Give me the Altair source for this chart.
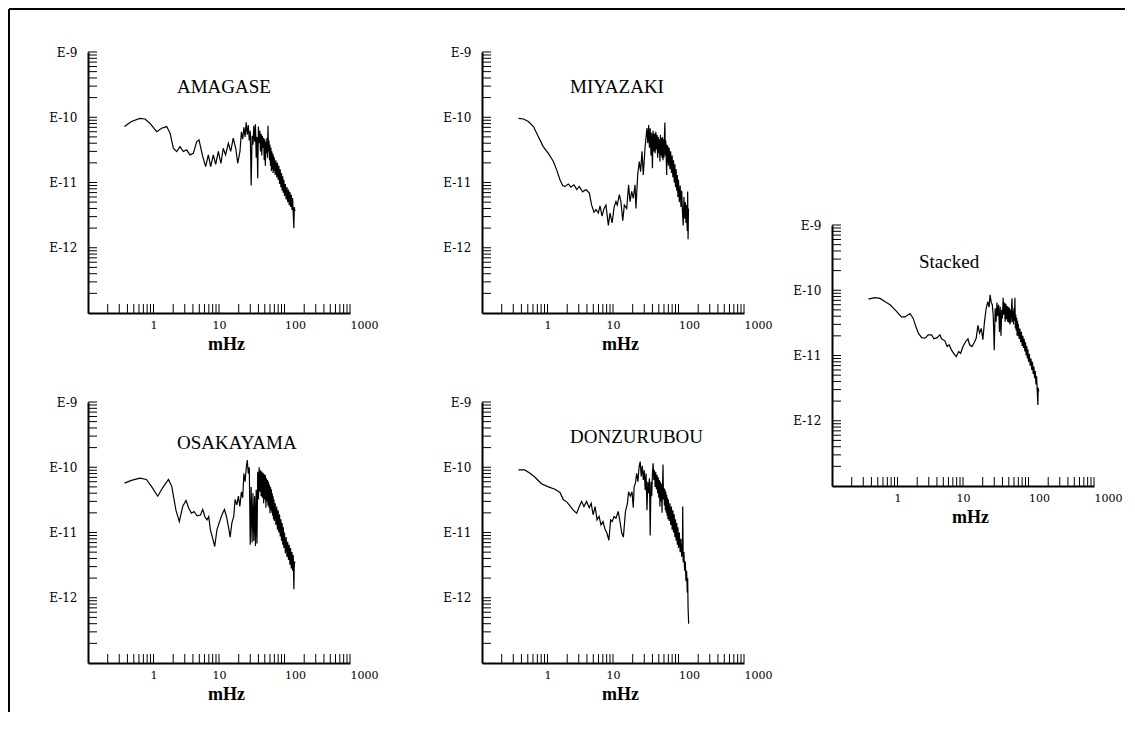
import altair as alt
import pandas as pd

# ---------------- data (frequency in mHz, power) ----------------
AMAGASE_F = [0.36, 0.46, 0.62, 0.74, 0.88, 1.12, 1.33, 1.59, 1.79, 2.01,
             2.26, 2.54, 2.85, 3.21, 3.6, 4.05, 4.56, 4.95, 5.56, 6.25,
             6.87, 7.46, 8.19, 8.9, 9.77, 10.7, 11.6, 12.6, 13.9, 15.1,
             16.5, 18.0, 19.3, 20.9,
             22, 23, 24, 25, 26, 27, 28, 29, 30, 31,
             32, 33, 34, 35, 36, 37, 38, 39, 40, 41,
             42, 43, 44, 45, 46, 47, 48, 49, 50, 51,
             52, 53, 54, 55, 56, 57, 58, 59, 60, 61,
             62, 63, 64, 65, 66, 67, 68, 69, 70,
             72, 74, 76, 78, 80, 82, 84, 86, 88, 90, 92, 94, 96, 98, 100,
             103, 106, 109, 112, 115, 118, 121, 124, 127, 130, 133,
             136, 139, 141, 144]
AMAGASE_P = [7.2e-11, 8.6e-11, 9.6e-11, 9.4e-11, 8.1e-11, 6.0e-11, 6.8e-11, 7.2e-11, 5.7e-11, 3.35e-11,
             2.98e-11, 3.55e-11, 2.98e-11, 3.16e-11, 2.65e-11, 2.8e-11, 4.2e-11, 4.5e-11, 2.65e-11, 1.75e-11,
             2.65e-11, 1.75e-11, 2.65e-11, 1.9e-11, 3.0e-11, 1.97e-11, 3.35e-11, 2.65e-11, 4.0e-11, 3.0e-11,
             4.8e-11, 3.35e-11, 1.97e-11, 3.0e-11,
             6.0e-11, 4.6e-11, 7.0e-11, 5.0e-11, 8.4e-11, 5.4e-11, 7.6e-11, 4.4e-11, 6.2e-11, 9.0e-12,
             5.2e-11, 3.8e-11, 7.4e-11, 4.2e-11, 7.8e-11, 2.4e-11, 5.0e-11, 1.16e-11, 7.2e-11, 4.0e-11,
             6.2e-11, 3.0e-11, 5.6e-11, 2.6e-11, 5.2e-11, 3.4e-11, 4.8e-11, 2.2e-11, 4.6e-11, 1.8e-11,
             4.2e-11, 2.8e-11, 4.8e-11, 2.4e-11, 7.4e-11, 3.0e-11, 4.4e-11, 2.2e-11, 3.8e-11, 1.8e-11,
             3.4e-11, 1.5e-11, 3.0e-11, 1.6e-11, 2.8e-11, 1.4e-11, 2.6e-11, 1.5e-11, 2.4e-11,
             1.3e-11, 2.2e-11, 1.2e-11, 2.0e-11, 1.1e-11, 1.8e-11, 9.5e-12, 1.6e-11, 8.5e-12, 1.4e-11,
             7.5e-12, 1.25e-11, 7.0e-12, 1.1e-11, 6.2e-12,
             9.5e-12, 5.5e-12, 8.5e-12, 5.0e-12, 7.8e-12, 4.5e-12, 7.2e-12, 4.2e-12, 6.5e-12, 3.8e-12, 5.8e-12,
             3.3e-12, 2.0e-12, 4.2e-12, 3.6e-12]

MIYAZAKI_F = [0.36, 0.43, 0.51, 0.61, 0.72, 0.86, 1.03, 1.23, 1.38, 1.55,
              1.71, 1.85, 2.08, 2.28, 2.54, 2.79, 3.06, 3.44, 3.87, 4.35,
              4.72, 5.13, 5.5, 5.97, 6.34, 6.8, 7.3, 7.8, 8.5, 9.0,
              9.7, 10.4, 11.1, 11.6, 12.5, 13.2, 14.1, 14.9, 16.2, 17.3,
              18.2, 19.3, 20.4, 21.7, 22.4, 23.8, 25.2, 26.4, 27.7, 29.0,
              30.8, 32.0,
              33, 34, 35, 36, 37, 38, 39, 40, 41, 42,
              43, 44, 45, 46, 47, 48, 49, 50, 51, 52,
              53, 54, 55, 56, 57, 58, 59, 60, 61, 62,
              63, 64, 65, 66, 67, 68, 69, 70,
              72, 74, 76, 78, 80, 82, 84, 86, 88, 90, 92, 94, 96, 98, 100,
              103, 106, 109, 112, 115, 118, 121, 124, 127, 130, 133,
              136, 138, 140, 142]
MIYAZAKI_P = [9.6e-11, 9.4e-11, 8.6e-11, 7.2e-11, 5.1e-11, 3.55e-11, 2.8e-11, 2.1e-11, 1.56e-11, 1.1e-11,
              8.9e-12, 8.7e-12, 9.5e-12, 8.5e-12, 9.2e-12, 7.8e-12, 8.7e-12, 7.2e-12, 7.8e-12, 6.9e-12,
              4.5e-12, 3.5e-12, 3.85e-12, 3.4e-12, 4.4e-12, 3.05e-12, 4.0e-12, 4.5e-12, 2.2e-12, 3.4e-12,
              2.4e-12, 4.2e-12, 5.1e-12, 4.5e-12, 6.5e-12, 5.1e-12, 2.6e-12, 4.5e-12, 4.0e-12, 9.2e-12,
              5.1e-12, 7.3e-12, 5.7e-12, 9.2e-12, 4.0e-12, 1.31e-11, 2.1e-11, 1.47e-11, 3.0e-11, 1.31e-11,
              3.35e-11, 5.0e-11,
              6.8e-11, 4.0e-11, 7.6e-11, 3.4e-11, 6.8e-11, 2.6e-11, 5.8e-11, 1.66e-11, 6.2e-11, 3.0e-11,
              5.6e-11, 2.8e-11, 6.0e-11, 3.2e-11, 5.4e-11, 2.4e-11, 5.0e-11, 2.8e-11, 4.6e-11, 2.1e-11,
              5.4e-11, 2.6e-11, 4.8e-11, 2.4e-11, 5.0e-11, 2.2e-11, 4.6e-11, 2.4e-11, 5.2e-11, 8.3e-11,
              2.6e-11, 4.4e-11, 2.2e-11, 1.3e-11, 3.8e-11, 2.0e-11, 3.6e-11, 1.8e-11,
              3.4e-11, 1.6e-11, 3.0e-11, 1.4e-11, 2.6e-11, 1.2e-11, 2.2e-11, 1.0e-11, 1.9e-11, 8.5e-12,
              1.6e-11, 7.5e-12, 1.3e-11, 6.0e-12, 1.1e-11,
              5.0e-12, 9.0e-12, 4.2e-12, 7.5e-12, 3.5e-12, 2.2e-12, 6.0e-12, 2.8e-12, 5.0e-12, 2.4e-12, 4.5e-12,
              1.8e-12, 7.3e-12, 1.35e-12, 4.0e-12]

OSAKAYAMA_F = [0.36, 0.46, 0.62, 0.78, 0.93, 1.16, 1.37, 1.69, 1.90, 2.20,
               2.48, 2.79, 3.14, 3.45, 3.79, 4.16, 4.63, 5.21, 5.65, 6.06,
               6.57, 6.97, 7.39, 8.0, 8.6, 9.3, 10.2, 11.1, 12.1, 13.0,
               13.9, 14.8, 15.7, 16.8, 17.6, 18.7, 19.8,
               20.8,
               22, 23, 24, 25, 26, 27, 28, 29, 30, 31,
               32, 33, 34, 35, 36, 37, 38, 39, 40, 41,
               42, 43, 44, 45, 46, 47, 48, 49, 50, 51,
               52, 53, 54, 55, 56, 57, 58, 59, 60, 61,
               62, 63, 64, 65, 66, 67, 68, 69, 70,
               72, 74, 76, 78, 80, 82, 84, 86, 88, 90, 92, 94, 96, 98, 100,
               103, 106, 109, 112, 115, 118, 121, 124, 127, 130, 133,
               136, 139, 141, 144]
OSAKAYAMA_P = [5.7e-11, 6.3e-11, 6.8e-11, 6.5e-11, 5.1e-11, 3.6e-11, 4.8e-11, 6.5e-11, 5.1e-11, 2.2e-11,
               1.47e-11, 2.5e-11, 3.1e-11, 2.35e-11, 1.98e-11, 2.1e-11, 1.8e-11, 1.85e-11, 2.25e-11, 1.76e-11,
               1.56e-11, 1.76e-11, 1.1e-11, 8.2e-12, 6.1e-12, 1.1e-11, 1.47e-11, 1.87e-11, 2.25e-11, 1.76e-11,
               1.24e-11, 8.5e-12, 1.39e-11, 1.76e-11, 3.2e-11, 2.65e-11, 3.6e-11,
               2.5e-11,
               4.2e-11, 3.4e-11, 8.0e-11, 6.0e-11, 9.5e-11, 1.29e-10, 8.0e-11, 1.0e-10, 6.5e-12, 5.0e-11,
               7.0e-12, 4.0e-11, 7.4e-12, 3.6e-11, 6.2e-12, 4.5e-11, 6.8e-12, 8.5e-11, 3.2e-11, 1.0e-10,
               4.2e-11, 9.0e-11, 3.6e-11, 8.6e-11, 3.4e-11, 8.2e-11, 2.8e-11, 7.8e-11, 3.2e-11, 7.6e-11,
               2.4e-11, 6.8e-11, 3.0e-11, 6.4e-11, 2.6e-11, 6.0e-11, 2.4e-11, 5.4e-11, 1.98e-11, 5.0e-11,
               2.2e-11, 4.6e-11, 2.0e-11, 4.0e-11, 1.8e-11, 3.6e-11, 1.6e-11, 3.2e-11, 1.5e-11,
               2.8e-11, 1.3e-11, 2.5e-11, 1.1e-11, 2.2e-11, 1.0e-11, 1.9e-11, 8.7e-12, 1.6e-11, 7.5e-12,
               1.4e-11, 6.5e-12, 1.2e-11, 5.8e-12, 1.0e-11,
               4.8e-12, 8.5e-12, 4.2e-12, 7.2e-12, 3.8e-12, 6.5e-12, 3.2e-12, 5.8e-12, 2.8e-12, 5.0e-12, 2.6e-12,
               4.5e-12, 1.35e-12, 3.2e-12, 3.6e-12]

DONZURUBOU_F = [0.36, 0.45, 0.54, 0.64, 0.81, 1.03, 1.30, 1.55, 1.74, 2.0,
                2.25, 2.47, 2.79, 3.06, 3.31, 3.60, 3.95, 4.33, 4.64, 4.97,
                5.33, 5.71, 6.12, 6.56, 7.03, 7.62, 8.07, 8.65, 9.2, 9.7,
                10.4, 11.1, 12.0, 12.8, 13.6, 14.4, 15.5, 16.6, 17.3, 18.4,
                19.5, 20.4, 21.0,
                22, 23, 24, 25, 26, 27, 28, 29, 30, 31,
                32, 33, 34, 35, 36, 37, 38, 39, 40, 41,
                42, 43, 44, 45, 46, 47, 48, 49, 50, 51,
                52, 53, 54, 55, 56, 57, 58, 59, 60, 61,
                62, 63, 64, 65, 66, 67, 68, 69, 70,
                72, 74, 76, 78, 80, 82, 84, 86, 88, 90, 92, 94, 96, 98, 100,
                103, 106, 109, 112, 115, 116, 118, 121, 124, 127, 130, 133, 136, 138, 140, 143]
DONZURUBOU_P = [9.1e-11, 9.1e-11, 8.1e-11, 7.1e-11, 5.6e-11, 5.0e-11, 4.6e-11, 4.1e-11, 3.2e-11, 2.9e-11,
                2.5e-11, 2.2e-11, 1.98e-11, 2.5e-11, 3.0e-11, 2.5e-11, 3.0e-11, 2.4e-11, 2.8e-11, 1.87e-11,
                2.5e-11, 1.56e-11, 1.76e-11, 1.31e-11, 1.47e-11, 1.1e-11, 9.8e-12, 7.6e-12, 1.56e-11, 1.47e-11,
                1.76e-11, 1.66e-11, 2.1e-11, 1.47e-11, 9.8e-12, 8.5e-12, 2.1e-11, 2.8e-11, 4.2e-11, 3.6e-11,
                4.2e-11, 2.4e-11, 5.0e-11,
                5.7e-11, 8.1e-11, 6.0e-11, 1.0e-10, 1.22e-10, 7.2e-11, 1.05e-10, 6.4e-11, 9.0e-11, 4.5e-11,
                8.0e-11, 2.2e-11, 6.0e-11, 4.0e-11, 6.8e-11, 9.0e-12, 6.0e-11, 3.6e-11, 8.0e-11, 1.15e-10,
                6.4e-11, 9.0e-11, 5.0e-11, 8.4e-11, 4.6e-11, 7.6e-11, 4.0e-11, 7.0e-11, 3.4e-11, 6.4e-11,
                2.5e-11, 6.0e-11, 3.0e-11, 5.6e-11, 2.0e-11, 5.0e-11, 1.1e-10, 3.2e-11, 4.8e-11, 2.6e-11,
                4.6e-11, 2.2e-11, 4.2e-11, 2.0e-11, 3.8e-11, 1.8e-11, 3.4e-11, 1.6e-11, 3.2e-11,
                1.5e-11, 2.8e-11, 1.3e-11, 2.5e-11, 1.1e-11, 2.2e-11, 1.0e-11, 1.9e-11, 8.5e-12, 1.6e-11,
                7.5e-12, 1.4e-11, 6.5e-12, 1.2e-11, 5.8e-12,
                1.0e-11, 5.0e-12, 8.0e-12, 4.2e-12, 6.5e-12, 2.5e-11, 3.5e-12, 5.0e-12, 2.6e-12, 3.6e-12,
                1.8e-12, 2.6e-12, 1.2e-12, 2.0e-12, 7.0e-13, 4.0e-13]

STACKED_F = [0.36, 0.45, 0.54, 0.64, 0.77, 0.92, 1.15, 1.30, 1.55, 1.74,
             1.91, 2.08, 2.34, 2.63, 2.95, 3.31, 3.60, 4.04, 4.44, 4.71,
             5.29, 5.73, 6.14, 6.66, 7.2, 7.9, 8.6, 9.2, 10.0, 11.0,
             11.9, 12.6, 13.7, 14.7, 15.9, 16.9, 17.9, 19.0, 20.1, 21.3,
             22.6, 23.9, 25.0, 25.9, 27.0,
             28, 29, 30, 31, 32, 33, 34, 35, 36, 37,
             38, 39, 40, 41, 42, 43, 44, 45, 46, 47,
             48, 49, 50, 51, 52, 53, 54, 55, 56, 57,
             58, 59, 60, 61, 62, 63, 64, 65, 66, 67,
             68, 69, 70,
             72, 74, 76, 78, 80, 82, 84, 86, 88, 90, 92, 94, 96, 98, 100,
             103, 106, 109, 112, 115, 118, 121, 124, 127, 130, 133,
             136, 139, 141, 143]
STACKED_P = [7.3e-11, 7.7e-11, 7.5e-11, 6.7e-11, 6.0e-11, 5.0e-11, 3.9e-11, 3.9e-11, 4.4e-11, 3.7e-11,
             2.75e-11, 2.2e-11, 1.88e-11, 1.84e-11, 2.07e-11, 2.07e-11, 1.8e-11, 1.88e-11, 2.07e-11, 1.8e-11,
             1.68e-11, 1.37e-11, 1.46e-11, 1.22e-11, 1.08e-11, 9.6e-12, 1.15e-11, 1.08e-11, 1.37e-11, 1.64e-11,
             1.8e-11, 1.46e-11, 1.37e-11, 1.55e-11, 1.84e-11, 2.9e-11, 2.2e-11, 2.6e-11, 1.75e-11, 3.3e-11,
             5.3e-11, 6.7e-11, 5.5e-11, 8.5e-11, 6.5e-11,
             6.0e-11, 4.0e-11, 1.2e-11, 5.3e-11, 3.3e-11, 6.5e-11, 4.0e-11, 6.0e-11, 2.3e-11, 5.6e-11,
             2.0e-11, 5.0e-11, 3.7e-11, 7.7e-11, 4.2e-11, 6.5e-11, 3.3e-11, 6.2e-11, 3.6e-11, 5.8e-11,
             3.3e-11, 5.6e-11, 3.2e-11, 5.4e-11, 3.0e-11, 5.0e-11, 3.2e-11, 5.4e-11, 7.5e-11, 3.3e-11,
             4.8e-11, 3.0e-11, 5.3e-11, 3.4e-11, 7.7e-11, 2.6e-11, 4.2e-11, 2.4e-11, 3.8e-11, 2.0e-11,
             3.4e-11, 2.0e-11, 3.0e-11,
             1.8e-11, 2.6e-11, 1.6e-11, 2.3e-11, 1.4e-11, 2.0e-11, 1.3e-11, 1.8e-11, 1.15e-11, 1.6e-11,
             1.0e-11, 1.4e-11, 9.0e-12, 1.25e-11, 8.0e-12,
             1.05e-11, 7.0e-12, 9.0e-12, 6.0e-12, 8.0e-12, 5.2e-12, 6.8e-12, 4.5e-12, 5.8e-12, 3.6e-12, 4.8e-12,
             2.8e-12, 1.75e-12, 3.2e-12, 2.8e-12]

# axis values
X_LABEL_VALUES = [1, 10, 100, 1000]
Y_LABEL_VALUES = [1e-9, 1e-10, 1e-11, 1e-12]
X_TICKS = [0.2, 0.3, 0.4, 0.5, 0.6, 0.7, 0.8, 0.9, 1,
           2, 3, 4, 5, 6, 7, 8, 9, 10,
           20, 30, 40, 50, 60, 70, 80, 90, 100,
           200, 300, 400, 500, 600, 700, 800, 900, 1000]
MANTISSAS = [1, 2, 3, 4, 5, 6, 7, 8, 9]
EXPONENTS = [-13, -12, -11, -10]
Y_TICKS = [float(f"{m}e{e}") for e in EXPONENTS for m in MANTISSAS if not (m == 1 and e == -13)] + [1e-9]

SERIF = "Liberation Serif"
LABEL_FONT = "DejaVu Serif"
PLOT_W = 262
PLOT_H = 261


def panel(name, freqs, powers, view_w, tx, ty, y_shift=0, frame=False):
    axis_y = PLOT_H + y_shift
    xscale = alt.Scale(type="log", domain=[0.1, 1000], range=[0, PLOT_W])
    yscale = alt.Scale(type="log", domain=[1e-13, 1e-9], range=[axis_y, y_shift])
    xaxis = alt.Axis(
        values=X_LABEL_VALUES, format="d", ticks=False, grid=False,
        domainColor="black", domainWidth=2,
        labelFont=LABEL_FONT, labelFontSize=11, labelColor="black",
        labelPadding=6, labelBaseline="top", labelFlush=False, labelOverlap=False,
        labelAlign={"condition": {"test": "datum.value >= 100", "value": "left"}, "value": "center"},
        title="mHz", titleFont=SERIF, titleFontSize=18, titleFontWeight="bold",
        titleColor="black", titleX=138, titleY=36, titleBaseline="alphabetic",
        titleAlign="center", offset=y_shift,
    )
    yaxis = alt.Axis(
        values=Y_LABEL_VALUES, labelExpr="'E' + round(log(datum.value) / LN10)",
        ticks=False, grid=False, domainColor="black", domainWidth=2,
        labelFont=LABEL_FONT, labelFontSize=12, labelColor="black",
        labelPadding=11, labelOverlap=False, labelFlush=False, title=None,
    )
    X = alt.X("f:Q", scale=xscale, axis=xaxis)
    Y = alt.Y("p:Q", scale=yscale, axis=yaxis)

    line = alt.Chart(pd.DataFrame({"f": freqs, "p": powers})).mark_line(
        color="black", strokeWidth=1.2
    ).encode(x=X, y=Y)
    xt = alt.Chart(pd.DataFrame({"f": X_TICKS})).mark_rule(
        color="black", strokeWidth=1
    ).encode(x=X, y=alt.value(axis_y - 9), y2=alt.value(axis_y))
    yt = alt.Chart(pd.DataFrame({"p": Y_TICKS})).mark_rule(
        color="black", strokeWidth=1
    ).encode(y=Y, x=alt.value(0), x2=alt.value(9))
    label = alt.Chart(pd.DataFrame({"name": [name]})).mark_text(
        font=SERIF, fontSize=19, align="left", baseline="middle", color="black"
    ).encode(text="name:N", x=alt.value(tx), y=alt.value(ty))

    layers = [line, xt, yt, label]
    if frame:
        one = pd.DataFrame({"k": [0]})
        fh = alt.Chart(one).mark_rule(color="black", strokeWidth=2).encode(
            x=alt.value(-79), x2=alt.value(1037), y=alt.value(-43))
        fv = alt.Chart(one).mark_rule(color="black", strokeWidth=2).encode(
            x=alt.value(-79), y=alt.value(-43), y2=alt.value(660))
        layers += [fh, fv]
    return alt.layer(*layers).properties(width=view_w, height=PLOT_H)


A = panel("AMAGASE", AMAGASE_F, AMAGASE_P, 306, 89, 35, frame=True)
M = panel("MIYAZAKI", MIYAZAKI_F, MIYAZAKI_P, 262, 88, 35)
S = panel("Stacked", STACKED_F, STACKED_P, 262, 87, 210, y_shift=173)
O = panel("OSAKAYAMA", OSAKAYAMA_F, OSAKAYAMA_P, 306, 89, 41)
D = panel("DONZURUBOU", DONZURUBOU_F, DONZURUBOU_P, 262, 88, 35)

chart = alt.concat(
    A, M, S, O, D,
    columns=3,
    spacing={"row": 89, "column": 88},
    bounds="flush",
    align="each",
    padding=0,
    background="white",
).configure_view(strokeWidth=0)

chart.save("out.html", embed_options={"renderer": "svg", "actions": False})
